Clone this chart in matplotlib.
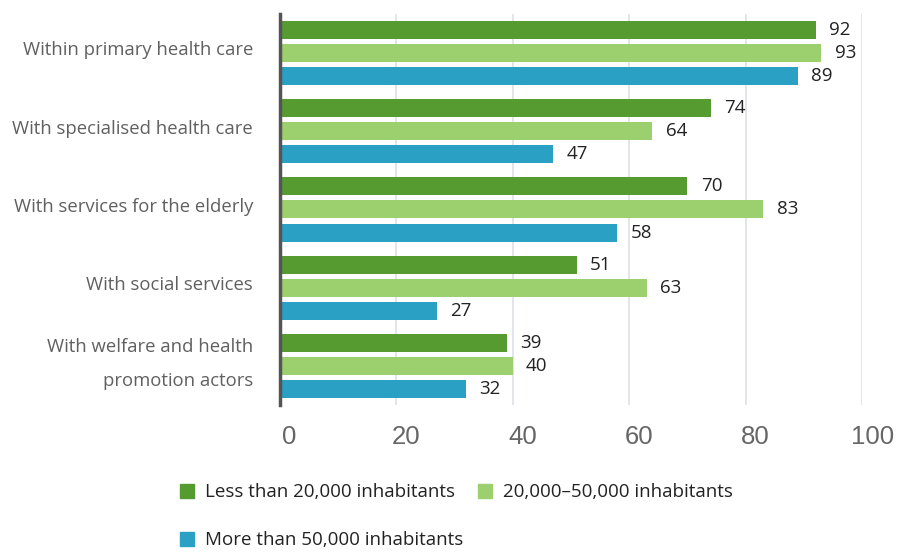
import numpy as np
import matplotlib.pyplot as plt
import matplotlib.transforms as mtransforms
from matplotlib.patches import Patch

plt.rcParams['font.family'] = ['Open Sans', 'DejaVu Sans']

categories = ['Within primary health care', 'With specialised health care',
              'With services for the elderly', 'With social services',
              'With welfare and health\npromotion actors']
series = ['Less than 20,000 inhabitants', '20,000\u201350,000 inhabitants',
          'More than 50,000 inhabitants']
small = [92, 74, 70, 51, 39]
medium = [93, 64, 83, 63, 40]
large = [89, 47, 58, 27, 32]
colors = ['#559b30', '#9ccf6e', '#2aa0c4']

fig = plt.figure(figsize=(8.99, 5.52), dpi=100)
ax = fig.add_axes([0.311, 0.266, 0.648, 0.709])

y = np.arange(len(categories))
offsets = [-0.295, 0, 0.295]
h = 0.23
for vals, off, c in zip([small, medium, large], offsets, colors):
    ax.barh(y + off, vals, height=h, color=c, zorder=3)
    for yi, v in zip(y, vals):
        ax.text(v + 2.3, yi + off, str(v), va='center', ha='left',
                fontsize=13.5, color='#222222')

ax.set_ylim(4.5, -0.5)
ax.set_xlim(0, 100)
ax.set_xticks([0, 20, 40, 60, 80, 100])
ax.set_yticks(y - np.array([0.06, 0.06, 0.06, 0.06, 0.15]))
ax.set_yticklabels(categories, fontsize=13.3, color='#606060', linespacing=2.15)
ax.tick_params(axis='y', length=0, pad=19)
ax.tick_params(axis='x', length=0, labelsize=18.5, labelcolor='#666666', pad=14)
shift = mtransforms.ScaledTranslation(10 / 100, 0, fig.dpi_scale_trans)
for lbl in ax.get_xticklabels():
    lbl.set_fontfamily('Liberation Sans')
    lbl.set_transform(lbl.get_transform() + shift)
ax.grid(axis='x', color='#dde1e6', linewidth=1.2, zorder=0)
for s in ['top', 'right', 'bottom']:
    ax.spines[s].set_visible(False)
ax.spines['left'].set_color('#555555')
ax.spines['left'].set_linewidth(2.5)
ax.spines['left'].set_zorder(4)

# order so that the legend fills row by row
order = [0, 2, 1]
handles = [Patch(color=colors[i]) for i in order]
labels = [series[i] for i in order]
fig.legend(handles, labels, loc='upper left', bbox_to_anchor=(0.181, 0.155),
           ncol=2, frameon=False, fontsize=13.5, handlelength=0.75,
           handleheight=0.75, handletextpad=0.6, columnspacing=0.8,
           labelspacing=1.6, labelcolor='#222222')

fig.savefig('out.png', dpi=100)
